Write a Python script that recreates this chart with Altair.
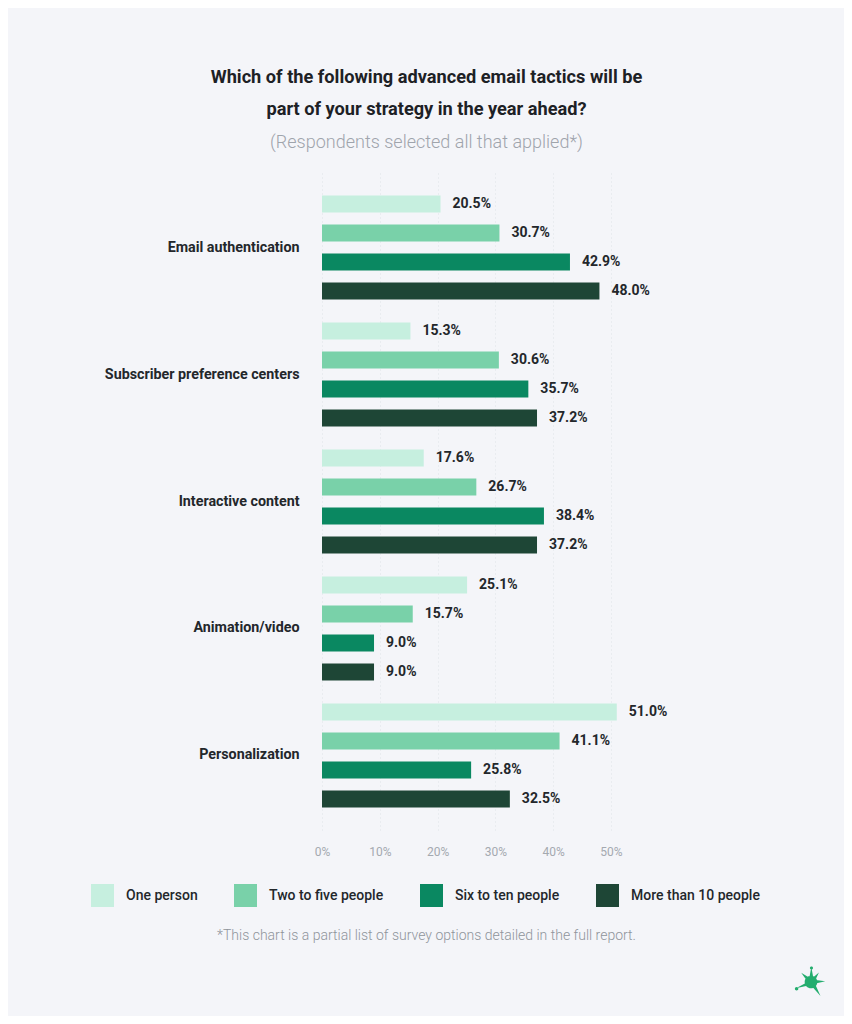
import altair as alt
import pandas as pd

categories = ["Email authentication", "Subscriber preference centers", "Interactive content",
              "Animation/video", "Personalization"]
series = ["One person", "Two to five people", "Six to ten people", "More than 10 people"]
one_person = [20.5, 15.3, 17.6, 25.1, 51.0]
two_to_five = [30.7, 30.6, 26.7, 15.7, 41.1]
six_to_ten = [42.9, 35.7, 38.4, 9.0, 25.8]
more_than_10 = [48.0, 37.2, 37.2, 9.0, 32.5]
x_ticks = [0, 10, 20, 30, 40, 50]
colors = ["#c6efdf", "#79d1a9", "#0a8861", "#1e4636"]

rows = []
for s, vals in zip(series, [one_person, two_to_five, six_to_ten, more_than_10]):
    for c, v in zip(categories, vals):
        rows.append({"category": c, "series": s, "value": v, "label": f"{v:.1f}%"})
df = pd.DataFrame(rows)

FONT = "Roboto"

y_enc = alt.Y("category:N", sort=categories, title=None,
              scale=alt.Scale(paddingInner=11 / 127, paddingOuter=0.13),
              axis=alt.Axis(domain=False, ticks=False, labelFont=FONT, labelFontSize=14.3,
                            labelFontWeight="bold", labelColor="#23272b", labelPadding=23,
                            labelLimit=300))
yoff_enc = alt.YOffset("series:N", sort=series,
                       scale=alt.Scale(paddingInner=12 / 29, paddingOuter=6 / 29))
x_enc = alt.X("value:Q", scale=alt.Scale(domain=[0, 50], nice=False),
              title="*This chart is a partial list of survey options detailed in the full report.",
              axis=alt.Axis(values=x_ticks, labelExpr="datum.value + '%'", domain=False, ticks=False,
                            grid=True, gridColor="#dfe2e7", gridDash=[1, 3], gridWidth=1,
                            labelFlush=False,
                            labelFont=FONT, labelFontSize=12, labelColor="#a4a9b0",
                            labelPadding=16, titleFont=FONT, titleFontSize=14,
                            titleFontWeight=300, titleColor="#8f949b", titleX=104, titleY=105,
                            titleAlign="center", titleBaseline="middle"))

color_enc = alt.Color("series:N", sort=series,
                      scale=alt.Scale(domain=series, range=colors),
                      legend=alt.Legend(title=None, orient="none", direction="horizontal",
                                        legendX=-231, legendY=711,
                                        symbolType="square", symbolSize=529, symbolStrokeWidth=0,
                                        symbolOpacity=1, labelOffset=12, columnPadding=36,
                                        labelFont=FONT, labelFontSize=14, labelFontWeight=500,
                                        labelColor="#23272b", labelLimit=300))

bars = alt.Chart(df).mark_bar(size=17).encode(
    y=y_enc, yOffset=yoff_enc, x=x_enc, color=color_enc
)
texts = alt.Chart(df).mark_text(align="left", baseline="middle", dx=12, font=FONT,
                                 fontSize=14, fontWeight="bold", color="#23272b").encode(
    y=alt.Y("category:N", sort=categories),
    yOffset=alt.YOffset("series:N", sort=series),
    x="value:Q", text="label:N"
)

# decorative logo (all sub-paths wound the same way so nothing cancels)
splat_path = (
    "M-0.4,0 A0.4,0.4 0 1,1 0.4,0 A0.4,0.4 0 1,1 -0.4,0 Z "
    "M-0.1,-0.3 L0.02,-0.95 L0.14,-0.3 Z "
    "M-0.07,-0.88 A0.1,0.1 0 1,1 0.13,-0.88 A0.1,0.1 0 1,1 -0.07,-0.88 Z "
    "M-0.3,-0.15 L-0.62,-0.58 L-0.18,-0.32 Z "
    "M-0.3,0.05 L-0.24,0.24 L-0.95,0.4 Z "
    "M-1.02,0.42 A0.11,0.11 0 1,1 -0.8,0.42 A0.11,0.11 0 1,1 -1.02,0.42 Z "
    "M0.08,0.3 L0.28,0.18 L0.6,0.88 Z "
    "M0.3,-0.12 L0.9,-0.04 L0.3,0.1 Z "
    "M0.15,-0.3 L0.5,-0.6 L0.3,-0.18 Z"
)
logo = alt.Chart(pd.DataFrame({"k": [0]})).mark_point(
    shape=splat_path, size=1000, filled=True, color="#23ad6e", opacity=1, strokeWidth=0
).encode(x=alt.value(489), y=alt.value(809))

chart = alt.layer(bars, texts, logo).properties(
    width=289, height=657,
    autosize=alt.AutoSizeParams(type="none"),
    padding={"left": 314, "top": 165, "right": 233, "bottom": 186},
    background="#f4f5f9",
    title=alt.TitleParams(
        text=["Which of the following advanced email tactics will be",
              "part of your strategy in the year ahead?"],
        subtitle="(Respondents selected all that applied*)",
        anchor="middle", dx=-40, font=FONT, fontSize=18.2, fontWeight="bold",
        color="#1d2125", lineHeight=32, subtitleFont=FONT, subtitleFontSize=18,
        subtitleFontWeight=300, subtitleColor="#9fa4ac", subtitlePadding=15, offset=20
    )
).configure_view(stroke=None)

chart.save("out.html", embed_options={"renderer": "svg", "actions": False})
